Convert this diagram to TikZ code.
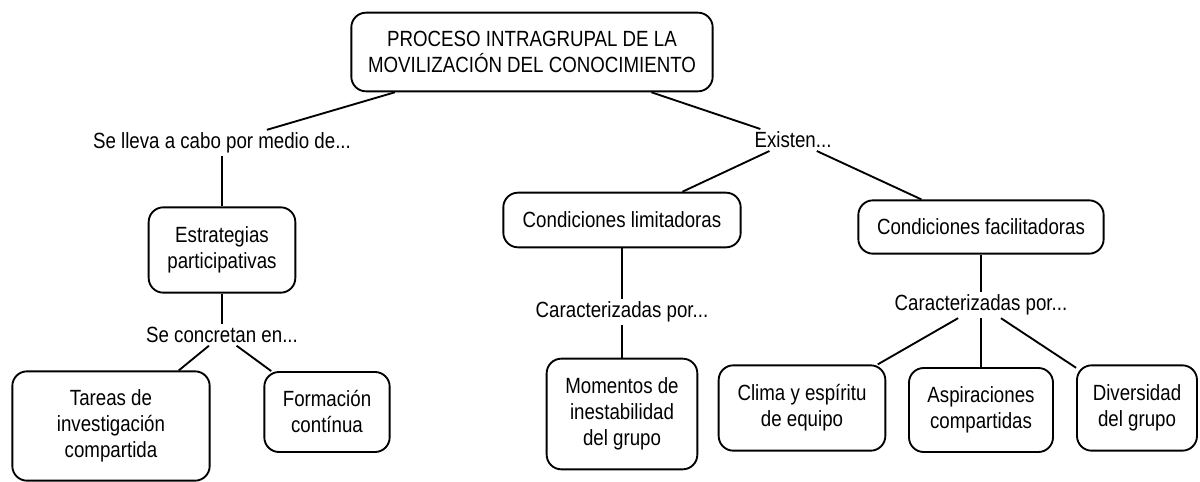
\documentclass[tikz,border=0pt]{standalone}
\usepackage{fontspec}
\setmainfont{Liberation Sans}[FakeStretch=0.85]
\usepackage{tikz}
\usetikzlibrary{positioning, arrows, shapes}

\tikzset{
    concepto/.style={draw, line width=1.4pt, rounded corners=11pt, align=center, fill=white, inner sep=2pt},
    enlace/.style={fill=white, inner sep=2pt, align=center},
    union/.style={line width=1.4pt}
}

\begin{document}
\begin{tikzpicture}[x=0.75pt,y=0.75pt,yscale=-1,xscale=1, font=\fontsize{16.5}{19.5}\selectfont]
        \useasboundingbox (0,0) rectangle (1200,482);
        \node (proceso) at (532,52) [concepto, minimum width=271pt, minimum height=59pt] {PROCESO INTRAGRUPAL DE LA\\MOVILIZACIÓN DEL CONOCIMIENTO};
        \node (lleva) at (222,143) [enlace] {Se lleva a cabo por medio de...};
        \node (existen) at (793,140) [enlace] {Existen...};
        \node (estrategias) at (222,250) [concepto, minimum width=110pt, minimum height=64pt] {Estrategias\\participativas};
        \node (concretan) at (222,335) [enlace] {Se concretan en...};
        \node (tareas) at (111,426) [concepto, minimum width=148pt, minimum height=82pt] {Tareas de\\investigación\\compartida};
        \node (formacion) at (327,412) [concepto, minimum width=94pt, minimum height=60pt] {Formación\\contínua};
        \node (limitadoras) at (622,220) [concepto, minimum width=178pt, minimum height=41pt] {Condiciones limitadoras};
        \node (caraclim) at (622,312) [enlace] {Caracterizadas por...};
        \node (momentos) at (622,414) [concepto, minimum width=113pt, minimum height=83pt] {Momentos de\\inestabilidad\\del grupo};
        \node (facilitadoras) at (981,227) [concepto, minimum width=184pt, minimum height=40pt] {Condiciones facilitadoras};
        \node (caracfac) at (981,305) [enlace] {Caracterizadas por...};
        \node (clima) at (802,408) [concepto, minimum width=125pt, minimum height=64pt] {Clima y espíritu\\de equipo};
        \node (aspiraciones) at (981,410) [concepto, minimum width=108pt, minimum height=63pt] {Aspiraciones\\compartidas};
        \node (diversidad) at (1137,408) [concepto, minimum width=90pt, minimum height=64pt] {Diversidad\\del grupo};
        \draw [union] (proceso) -- (lleva);
        \draw [union] (proceso) -- (existen);
        \draw [union] (lleva) -- (estrategias);
        \draw [union] (estrategias) -- (concretan);
        \draw [union] (concretan) -- (tareas);
        \draw [union] (concretan) -- (formacion);
        \draw [union] (existen) -- (limitadoras);
        \draw [union] (existen) -- (facilitadoras);
        \draw [union] (limitadoras) -- (caraclim);
        \draw [union] (caraclim) -- (momentos);
        \draw [union] (facilitadoras) -- (caracfac);
        \draw [union] (caracfac) -- (clima);
        \draw [union] (caracfac) -- (aspiraciones);
        \draw [union] (caracfac) -- (diversidad);
    \end{tikzpicture}
\end{document}
